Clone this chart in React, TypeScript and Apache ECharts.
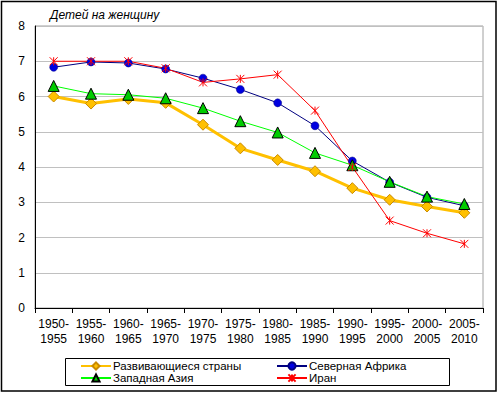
import React, { useEffect, useRef } from "react";
import * as echarts from "echarts";

const categories = [
  "1950-\n1955", "1955-\n1960", "1960-\n1965", "1965-\n1970", "1970-\n1975", "1975-\n1980",
  "1980-\n1985", "1985-\n1990", "1990-\n1995", "1995-\n2000", "2000-\n2005", "2005-\n2010",
];
const developing = [6.0, 5.8, 5.93, 5.82, 5.2, 4.53, 4.2, 3.88, 3.4, 3.07, 2.88, 2.7];
const northAfrica = [6.83, 6.98, 6.95, 6.78, 6.52, 6.2, 5.82, 5.17, 4.17, 3.57, 3.14, 2.9];
const westAsia = [6.3, 6.08, 6.05, 5.95, 5.67, 5.3, 4.98, 4.4, 4.05, 3.58, 3.16, 2.95];
const iran = [7.0, 7.0, 7.0, 6.8, 6.4, 6.5, 6.62, 5.6, 4.0, 2.48, 2.12, 1.82];
const yTitle = "Детей на женщину";

const FONT = "Liberation Sans, Arial, sans-serif";
const STAR = "path://M0,0L10,10M10,0L0,10M5,0L5,10";

export default function App() {
  const ref = useRef<HTMLDivElement>(null);
  useEffect(() => {
    const chart = echarts.init(ref.current!, null, { renderer: "svg" });
    const legendText = { color: "#000", fontSize: 11.5, lineHeight: 12, padding: [0, 0, 0, -3], fontFamily: FONT };
    chart.setOption({
      animation: false,
      textStyle: { fontFamily: FONT },
      grid: { left: 35, right: 17, top: 26, bottom: 86, show: true, borderColor: "#a0a0a0", borderWidth: 1 },
      xAxis: {
        type: "category",
        data: categories,
        boundaryGap: true,
        axisLine: { lineStyle: { color: "#000", width: 1 } },
        axisTick: { show: true, interval: 0, length: 5, lineStyle: { color: "#000" } },
        axisLabel: { interval: 0, color: "#000", fontSize: 12, lineHeight: 15, margin: 8, fontFamily: FONT },
        splitLine: { show: false },
      },
      yAxis: {
        type: "value",
        min: 0,
        max: 8,
        interval: 1,
        axisLine: { show: true, lineStyle: { color: "#000", width: 1 } },
        axisTick: { show: false },
        axisLabel: { color: "#000", fontSize: 12, margin: 10, fontFamily: FONT },
        splitLine: { lineStyle: { color: "#c0c0c0", width: 1 } },
      },
      legend: [
        {
          left: 80,
          top: 360,
          orient: "vertical",
          itemGap: 0,
          itemWidth: 30,
          itemHeight: 9,
          data: ["Развивающиеся страны", "Западная Азия"],
          textStyle: legendText,
          padding: 0,
        },
        {
          left: 276,
          top: 360,
          orient: "vertical",
          itemGap: 0,
          itemWidth: 30,
          itemHeight: 9,
          data: ["Северная Африка", "Иран"],
          textStyle: legendText,
          padding: 0,
        },
      ],
      graphic: [
        {
          type: "rect",
          shape: { x: 1.5, y: 1.5, width: 494.5, height: 389.5 },
          style: { fill: "none", stroke: "#000", lineWidth: 1.5 },
          silent: true,
        },
        {
          type: "rect",
          shape: { x: 65.5, y: 358.5, width: 384, height: 27 },
          style: { fill: "none", stroke: "#000", lineWidth: 1 },
          silent: true,
          z: -1,
        },
        {
          type: "text",
          x: 50,
          y: 9,
          style: { text: yTitle, fill: "#000", font: `italic 12px ${FONT}` },
        },
      ],
      series: [
        {
          name: "Развивающиеся страны",
          type: "line",
          data: developing,
          symbol: "diamond",
          symbolSize: 11,
          lineStyle: { color: "#ffc000", width: 3 },
          itemStyle: { color: "#ffc000", borderColor: "#c98a00", borderWidth: 1 },
        },
        {
          name: "Северная Африка",
          type: "line",
          data: northAfrica,
          symbol: "circle",
          symbolSize: 8,
          lineStyle: { color: "#000080", width: 1 },
          itemStyle: { color: "#0000e0", borderColor: "#000080", borderWidth: 0.5 },
        },
        {
          name: "Западная Азия",
          type: "line",
          data: westAsia,
          symbol: "triangle",
          symbolSize: 11,
          lineStyle: { color: "#00ff00", width: 1 },
          itemStyle: { color: "#00cc00", borderColor: "#000", borderWidth: 1 },
        },
        {
          name: "Иран",
          type: "line",
          data: iran,
          symbol: STAR,
          symbolSize: 8,
          lineStyle: { color: "#ff0000", width: 1 },
          itemStyle: { color: "#ff0000", borderColor: "#ff0000", borderWidth: 1 },
        },
      ],
    });
    return () => chart.dispose();
  }, []);
  return <div ref={ref} style={{ width: 500, height: 394, position: "absolute", left: 0, top: 0 }} />;
}
